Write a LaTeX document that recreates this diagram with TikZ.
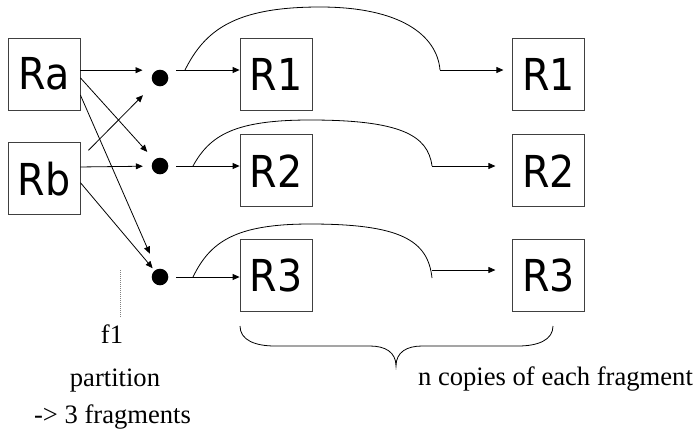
\documentclass[tikz,border=0pt]{standalone}
\usepackage{fontspec}
\setmainfont{Liberation Serif}
\newfontfamily\boxfont[FakeStretch=0.9]{DejaVu Sans}
\usetikzlibrary{positioning,arrows.meta}

\begin{document}
\begin{tikzpicture}[
    x=1pt, y=1pt,
    box/.style={draw=black!75, line width=0.8pt, minimum width=72pt, minimum height=72pt, inner sep=0pt, font=\boxfont\fontsize{44}{50}\selectfont},
    dot/.style={circle, fill, inner sep=0pt, minimum size=16.6pt},
    line/.style={line width=0.8pt},
    arr/.style={line, -{Triangle[length=7pt,width=6pt]}},
    lbl/.style={font=\fontsize{26.6}{30}\selectfont, anchor=base, inner sep=0pt}
  ]
  \useasboundingbox (0,0) rectangle (698,-432);

  % relations and fragments
  \node[box] (ra) at (44,-74) {Ra};
  \node[box, below=32pt of ra] (rb) {Rb};
  \node[box] (r1) at (276,-74) {R1};
  \node[box, below=24pt of r1] (r2) {R2};
  \node[box, below=32pt of r2] (r3) {R3};
  \node[box, right=200pt of r1] (c1) {R1};
  \node[box, right=200pt of r2] (c2) {R2};
  \node[box, right=200pt of r3] (c3) {R3};

  \node[dot] (d1) at (160,-78) {};
  \node[dot] (d2) at (160,-166) {};
  \node[dot] (d3) at (160,-277) {};

  % partition f1
  \draw[arr, shorten >=9pt] (ra.6) -- (ra.6 -| d1.west);
  \draw[arr, shorten >=10.5pt] (ra.-6) -- (d2);
  \draw[arr, shorten >=17pt] (ra.-30) -- (d3);
  \draw[arr, shorten >=15.7pt] ([xshift=8pt]rb.38) -- (d1);
  \draw[arr, shorten >=8.7pt] (rb.18) -- (d2);
  \draw[arr, shorten >=3pt] (rb.-6) -- (d3);

  \coordinate (s1) at (176,-70);
  \coordinate (s2) at (176,-166);
  \coordinate (s3) at (176,-277);
  \draw[arr] (s1) -- (s1 -| r1.west);
  \draw[arr] (s2) -- (s2 -| r2.west);
  \draw[arr] (s3) -- (s3 -| r3.west);

  % copies
  \coordinate (b1) at (185,-70);
  \coordinate (b2) at (193,-166);
  \coordinate (b3) at (193,-277);
  \coordinate (k1) at (440,-70);
  \coordinate (k2) at (432,-166);
  \coordinate (k3) at (432,-270);
  \coordinate (e3) at (432,-278);
  \draw[line] (b1) .. controls (205,-30) and (235,-7) .. (320,-7)
    .. controls (400,-7) and (437,-35) .. (k1);
  \draw[line] (b2) .. controls (210,-135) and (235,-120) .. (310,-120)
    .. controls (400,-120) and (428,-135) .. (k2);
  \draw[line] (b3) .. controls (210,-242) and (235,-224) .. (310,-224)
    .. controls (400,-224) and (428,-240) .. (e3);
  \draw[arr, shorten >=9pt] (k1) -- (k1 -| c1.west);
  \draw[arr, shorten >=17pt] (k2) -- (k2 -| c2.west);
  \draw[arr, shorten >=17pt] (k3) -- (k3 -| c3.west);

  % labels
  \draw[gray, line width=0.6pt, dash pattern=on 1pt off 1pt] (120,-270) -- (120,-318);
  \node[lbl] (f1) at (112,-343) {f1};
  \node[lbl] (part) at (115,-386) {partition};
  \node[lbl] (frag) at (112.5,-423) {-> 3 fragments};
  \draw[line] (240,-326) .. controls (240,-340) and (255,-346) .. (275,-346) -- (370,-346)
    .. controls (385,-346) and (396,-352) .. (396,-366)
    .. controls (396,-352) and (407,-346) .. (422,-346) -- (518,-346)
    .. controls (538,-346) and (553,-340) .. (553,-326);
  \node[lbl] (ncopies) at (555.5,-385) {n copies of each fragment};
\end{tikzpicture}
\end{document}
